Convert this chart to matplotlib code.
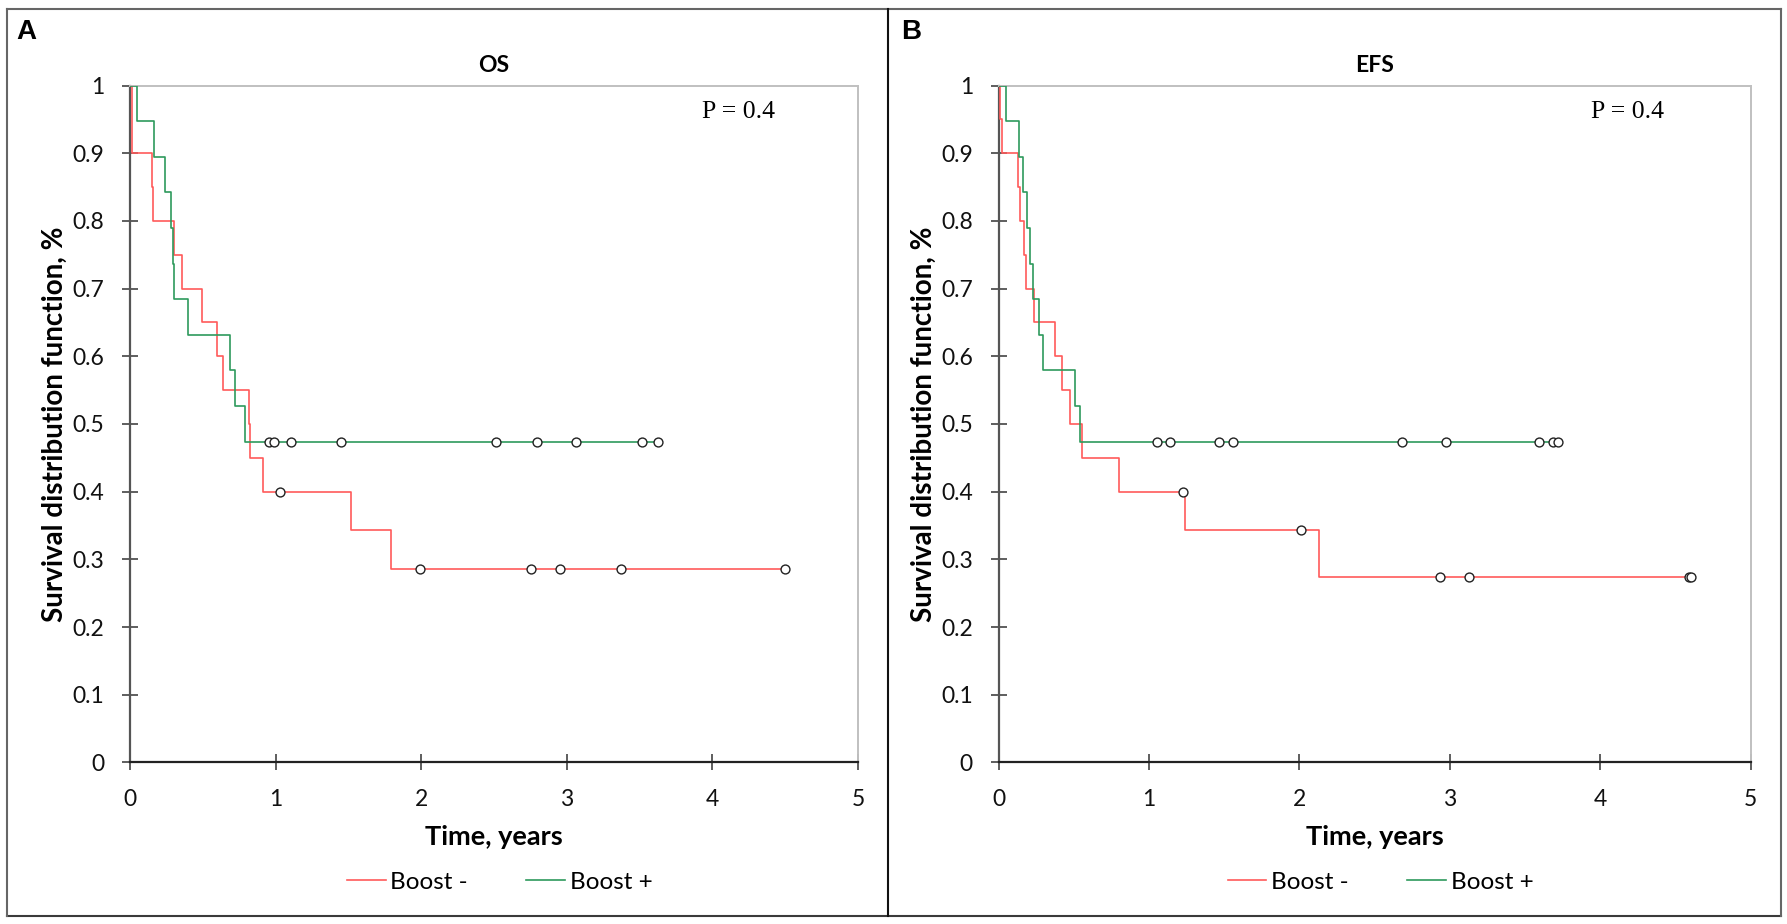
import matplotlib
matplotlib.use("Agg")
import matplotlib.pyplot as plt
from matplotlib.lines import Line2D

# ---------------- data ----------------
# OS panel
os_neg_times = [0, 0.012, 0.016, 0.149, 0.161, 0.303, 0.356, 0.492, 0.598, 0.637, 0.814, 0.821, 0.915, 1.521, 1.790]
os_neg_surv = [1.0, 0.95, 0.90, 0.85, 0.80, 0.75, 0.70, 0.65, 0.60, 0.55, 0.50, 0.45, 0.40, 0.343, 0.286]
os_neg_cens_t = [1.03, 1.99, 2.757, 2.951, 3.374, 4.498]
os_neg_cens_s = [0.40, 0.286, 0.286, 0.286, 0.286, 0.286]

os_pos_times = [0, 0.046, 0.168, 0.241, 0.285, 0.294, 0.303, 0.398, 0.685, 0.722, 0.791]
os_pos_surv = [1.0, 0.947, 0.895, 0.842, 0.789, 0.737, 0.684, 0.632, 0.579, 0.526, 0.474]
os_pos_cens_t = [0.954, 0.990, 1.105, 1.452, 2.511, 2.797, 3.066, 3.515, 3.623]
os_pos_cens_s = [0.474, 0.474, 0.474, 0.474, 0.474, 0.474, 0.474, 0.474, 0.474]

# EFS panel
efs_neg_times = [0, 0.011, 0.022, 0.131, 0.140, 0.169, 0.184, 0.238, 0.378, 0.424, 0.476, 0.556, 0.801, 1.237, 2.130]
efs_neg_surv = [1.0, 0.95, 0.90, 0.85, 0.80, 0.75, 0.70, 0.65, 0.60, 0.55, 0.50, 0.45, 0.40, 0.343, 0.274]
efs_neg_cens_t = [1.227, 2.013, 2.935, 3.126, 4.591, 4.600]
efs_neg_cens_s = [0.40, 0.343, 0.274, 0.274, 0.274, 0.274]

efs_pos_times = [0, 0.051, 0.138, 0.164, 0.191, 0.209, 0.231, 0.271, 0.293, 0.511, 0.542]
efs_pos_surv = [1.0, 0.947, 0.895, 0.842, 0.789, 0.737, 0.684, 0.632, 0.579, 0.526, 0.474]
efs_pos_cens_t = [1.052, 1.138, 1.463, 1.555, 2.684, 2.973, 3.593, 3.688, 3.717]
efs_pos_cens_s = [0.474, 0.474, 0.474, 0.474, 0.474, 0.474, 0.474, 0.474, 0.474]

x_ticks = [0, 1, 2, 3, 4, 5]
y_ticks = [0, 0.1, 0.2, 0.3, 0.4, 0.5, 0.6, 0.7, 0.8, 0.9, 1.0]
y_tick_labels = ["0", "0.1", "0.2", "0.3", "0.4", "0.5", "0.6", "0.7", "0.8", "0.9", "1"]
series_labels = ["Boost -", "Boost +"]
panel_titles = ["OS", "EFS"]
panel_letters = ["A", "B"]
p_text = "P = 0.4"
x_label = "Time, years"
y_label = "Survival distribution function, %"

RED = "#ff5a5a"
GREEN = "#2e9a5c"
SANS = ["Lato", "DejaVu Sans"]
SERIF = ["Liberation Serif", "DejaVu Serif"]

W, H = 1787, 924
fig = plt.figure(figsize=(W / 100, H / 100), dpi=100)
fig.patch.set_facecolor("white")


def frac_box(l, t, r, b):
    return [l / W, 1 - b / H, (r - l) / W, (b - t) / H]


def draw_panel(box, neg, pos, title, letter, letter_x):
    ax = fig.add_axes(frac_box(*box))
    l, t, r, b = box
    for (tt, ss, ct, cs), col in ((neg, RED), (pos, GREEN)):
        xs = list(tt) + [max(ct)]
        ys = list(ss) + [ss[-1]]
        ax.step(xs, ys, where="post", color=col, lw=1.2, zorder=3)
        ax.plot(ct, cs, ls="none", marker="o", ms=6.4, mfc="white",
                mec="#222222", mew=1.0, zorder=4)
    ax.set_xlim(0, 5)
    ax.set_ylim(0, 1)
    ax.set_xticks(x_ticks)
    ax.set_xticklabels([str(v) for v in x_ticks])
    ax.set_yticks(y_ticks)
    ax.set_yticklabels(y_tick_labels)
    ax.tick_params(axis="both", direction="inout", length=11, width=1.1,
                   color="#333333", labelsize=16.5, labelcolor="#111111")
    ax.tick_params(axis="y", pad=13)
    ax.tick_params(axis="x", pad=14)
    for lab in ax.get_xticklabels() + ax.get_yticklabels():
        lab.set_family(SANS)
    ax.spines["left"].set_color("#555555")
    ax.spines["left"].set_linewidth(1.6)
    ax.spines["bottom"].set_color("#222222")
    ax.spines["bottom"].set_linewidth(1.6)
    for s in ("top", "right"):
        ax.spines[s].set_color("#c0c0c0")
        ax.spines[s].set_linewidth(1.4)
    ax.set_xlabel(x_label, fontsize=19.5, fontweight="bold", family=SANS)
    ax.xaxis.set_label_coords(0.5, (b - 825) / (b - t))
    ax.set_ylabel(y_label, fontsize=20, fontweight="bold", family=SANS)
    ax.yaxis.set_label_coords(-62.0 / (r - l), 0.5)
    ax.text(0.5, (b - 66) / (b - t), title, transform=ax.transAxes, ha="center",
            va="center", fontsize=16.5, fontweight="bold", family=SANS)
    ax.text(0.8365, 0.961, p_text, transform=ax.transAxes, ha="center",
            va="center", fontsize=18.5, family=SERIF)
    fig.text(letter_x / W, 1 - 32 / H, letter, ha="left", va="center",
             fontsize=20, fontweight="bold", family=["Liberation Sans", "DejaVu Sans"])
    handles = [Line2D([0], [0], color=RED, lw=1.2), Line2D([0], [0], color=GREEN, lw=1.2)]
    ax.legend(handles, series_labels, loc="center", ncol=2, frameon=False,
              bbox_to_anchor=(0.508, (b - 882) / (b - t)),
              prop={"family": SANS, "size": 17.5}, handlelength=1.6,
              handletextpad=0.2, columnspacing=2.4)
    return ax


draw_panel((130, 85.5, 858, 762.4),
           (os_neg_times, os_neg_surv, os_neg_cens_t, os_neg_cens_s),
           (os_pos_times, os_pos_surv, os_pos_cens_t, os_pos_cens_s),
           panel_titles[0], panel_letters[0], 16)
draw_panel((998.6, 85.5, 1750.7, 762.4),
           (efs_neg_times, efs_neg_surv, efs_neg_cens_t, efs_neg_cens_s),
           (efs_pos_times, efs_pos_surv, efs_pos_cens_t, efs_pos_cens_s),
           panel_titles[1], panel_letters[1], 901)


# panel frames
def fline(x0, y0, x1, y1, color="#3a3a3a", lw=1.5):
    fig.add_artist(Line2D([x0 / W, x1 / W], [1 - y0 / H, 1 - y1 / H],
                          transform=fig.transFigure, color=color, lw=lw))


fline(7, 9, 1781, 9, "#666666")
fline(7, 916, 1781, 916, "#3a3a3a")
fline(7, 9, 7, 916, "#666666")
fline(1781, 9, 1781, 916, "#666666")
fline(888, 9, 888, 916, "#111111")

fig.savefig("out.png", dpi=100, facecolor="white")
